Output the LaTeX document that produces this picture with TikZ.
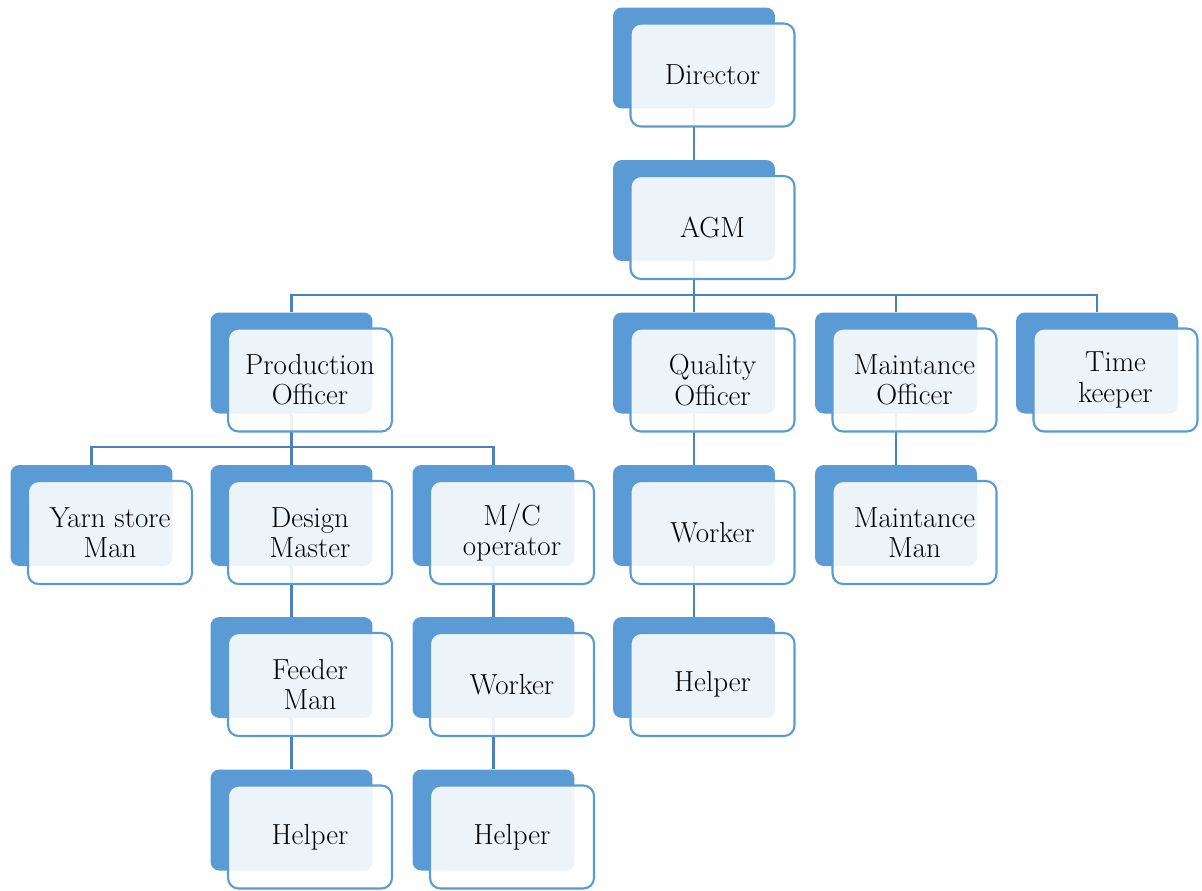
\documentclass[tikz,border=0pt]{standalone}
\usepackage{tikz}
\usetikzlibrary{positioning, calc, backgrounds}
\definecolor{cardblue}{RGB}{91,155,213}
\definecolor{linkblue}{RGB}{76,128,190}
\tikzset{
    backcard/.style={
        rectangle,
        rounded corners=5pt,
        fill=cardblue,
        minimum width=3.24cm,
        minimum height=2.02cm,
        inner sep=0pt
    },
    frontcard/.style={
        rectangle,
        rounded corners=6pt,
        draw=cardblue,
        line width=1.2pt,
        fill=white,
        fill opacity=0.89,
        text opacity=1,
        minimum width=3.28cm,
        minimum height=2.06cm,
        inner sep=0pt,
        align=center,
        font=\fontsize{16.5}{17.2}\selectfont
    },
    link/.style={
        draw=linkblue,
        line width=1.3pt
    }
}

\begin{document}
\begin{tikzpicture}[x=0.02cm, y=-0.02cm]
\useasboundingbox (0,0) rectangle (1202,890);

% Top
\node[backcard] (dirb) at (694,58) {};
\node[frontcard] (dir) at ($(dirb)+(18.5,17)$) {Director};
\node[backcard] (agmb) at (694,210.5) {};
\node[frontcard] (agm) at ($(agmb)+(18.5,17)$) {AGM};

% Officers
\node[backcard] (prodb) at (291.5,363) {};
\node[frontcard] (prod) at ($(prodb)+(18.5,17)$) {Production\\Officer};
\node[backcard] (qualb) at (694,363) {};
\node[frontcard] (qual) at ($(qualb)+(18.5,17)$) {Quality\\Officer};
\node[backcard] (maintb) at (896,363) {};
\node[frontcard] (maint) at ($(maintb)+(18.5,17)$) {Maintance\\Officer};
\node[backcard] (timeb) at (1097,363) {};
\node[frontcard] (time) at ($(timeb)+(18.5,17)$) {Time\\keeper};

% Third row
\node[backcard] (yarnb) at (91.5,515.5) {};
\node[frontcard] (yarn) at ($(yarnb)+(18.5,17)$) {Yarn store\\Man};
\node[backcard] (designb) at (291.5,515.5) {};
\node[frontcard] (design) at ($(designb)+(18.5,17)$) {Design\\Master};
\node[backcard] (mcb) at (493.5,515.5) {};
\node[frontcard] (mc) at ($(mcb)+(18.5,17)$) {M/C\\operator};
\node[backcard] (qworkerb) at (694,515.5) {};
\node[frontcard] (qworker) at ($(qworkerb)+(18.5,17)$) {Worker};
\node[backcard] (mmanb) at (896,515.5) {};
\node[frontcard] (mman) at ($(mmanb)+(18.5,17)$) {Maintance\\Man};

% Fourth row
\node[backcard] (feederb) at (291.5,667.5) {};
\node[frontcard] (feeder) at ($(feederb)+(18.5,17)$) {Feeder\\Man};
\node[backcard] (mcworkerb) at (493.5,667.5) {};
\node[frontcard] (mcworker) at ($(mcworkerb)+(18.5,17)$) {Worker};
\node[backcard] (qhelperb) at (694,667.5) {};
\node[frontcard] (qhelper) at ($(qhelperb)+(18.5,17)$) {Helper};

% Bottom row
\node[backcard] (fhelperb) at (291.5,820) {};
\node[frontcard] (fhelper) at ($(fhelperb)+(18.5,17)$) {Helper};
\node[backcard] (mchelperb) at (493.5,820) {};
\node[frontcard] (mchelper) at ($(mchelperb)+(18.5,17)$) {Helper};

% Connectors
\coordinate (busA) at (694,295);
\coordinate (busP) at (291.5,447);
\begin{scope}[on background layer]
\draw[link] (dirb) -- (agmb);
\draw[link] (agmb) -- (qualb);
\draw[link] (prodb) |- (busA) -| (timeb);
\draw[link] (maintb) -- (maintb |- busA);
\draw[link] (yarnb) |- (busP) -| (mcb);
\draw[link] (prodb) -- (designb);
\draw[link] (designb) -- (feederb) -- (fhelperb);
\draw[link] (mcb) -- (mcworkerb) -- (mchelperb);
\draw[link] (qualb) -- (qworkerb) -- (qhelperb);
\draw[link] (maintb) -- (mmanb);
\end{scope}

\end{tikzpicture}
\end{document}
